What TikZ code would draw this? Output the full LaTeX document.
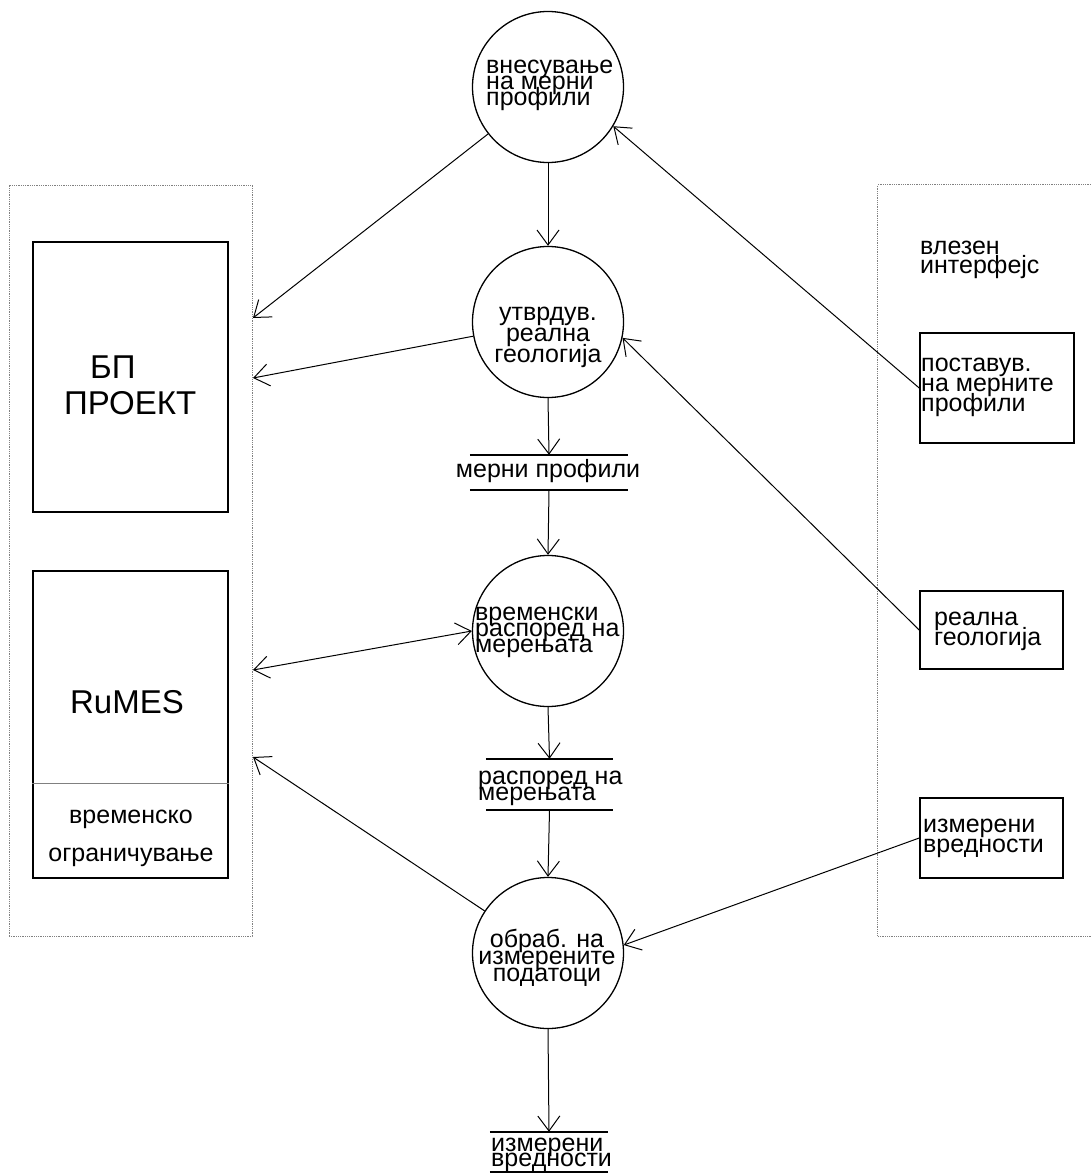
\documentclass[tikz,border=0pt]{standalone}
\usepackage{fontspec}
\setmainfont{Liberation Sans}
\usetikzlibrary{arrows.meta}
\tikzset{
  proc/.style={circle, draw, line width=1.3pt, minimum size=151pt, inner sep=0pt},
  ent/.style={draw, line width=1.6pt, inner sep=0pt},
  bound/.style={draw=gray, densely dotted, line width=0.8pt, inner sep=0pt},
  boundline/.style={draw=gray, densely dotted, line width=0.8pt},
  store/.style={inner sep=0pt},
  storeline/.style={line width=2.4pt},
  flow/.style={-{Straight Barb[length=15pt,width=22pt]}, line width=1pt},
  biflow/.style={{Straight Barb[length=15pt,width=22pt]}-{Straight Barb[length=15pt,width=22pt]}, line width=1pt},
  txt/.style={inner sep=0pt, align=left, font={\fontsize{25}{#1}\selectfont\lineskiplimit=-100pt}},
  txt/.default=16,
  ctxt/.style={txt=#1, align=center},
  ctxt/.default=16,
  big/.style={inner sep=0pt, align=left, font={\fontsize{33}{36}\selectfont\lineskiplimit=-100pt}}
}
\begin{document}
\begin{tikzpicture}[x=1pt,y=-1pt]
\useasboundingbox (0,0) rectangle (1090,1174);
% boundaries
\node[bound, minimum width=243pt, minimum height=751pt] (lb) at (130.5,560.5) {};
\node[inner sep=0pt, minimum width=220pt, minimum height=751pt] (rb) at (988,560.5) {};
\draw[boundline] (rb.north east) -- (rb.north west) -- (rb.south west) -- (rb.south east);
% left entities
\node[ent, minimum width=195pt, minimum height=270pt] (bp) at (130.5,377) {};
\node[big, anchor=west] (bpt) at (64,385) {\hspace*{26pt}БП\\ПРОЕКТ};
\node[ent, minimum width=195pt, minimum height=307pt] (ru) at (130.5,724.5) {};
\draw[gray, line width=0.8pt] (ru.west |- 0,783) coordinate (rusl) -- (ru.east |- 0,783) coordinate (rusr);
\node[big, anchor=center] (rut) at (127,702) {RuMES};
\node[ctxt=38] (rut2) at (131,838) {временско\\ограничување};
% processes
\node[proc] (p1) at (548,87) {};
\node[txt, anchor=west] (t1) at (486,85) {внесување\\на мерни\\профили};
\node[proc] (p2) at (548,322) {};
\node[ctxt=21] (t2) at (548,337) {утврдув.\\реална\\геологија};
\node[proc] (p3) at (548,631) {};
\node[txt, anchor=west] (t3) at (475,632) {временски\\распоред на\\мерењата};
\node[proc] (p4) at (548,953) {};
\node[ctxt=17] (t4) at (547,958) {обраб. на\\измерените\\податоци};
% stores
\node[store, minimum width=158pt, minimum height=35pt] (s1) at (549,472.5) {};
\draw[storeline] (s1.north west) -- (s1.north east);
\draw[storeline] (s1.south west) -- (s1.south east);
\node[txt] (ts1) at (548,471) {мерни профили};
\node[store, minimum width=127pt, minimum height=51pt] (s2) at (549.5,784.5) {};
\draw[storeline] (s2.north west) -- (s2.north east);
\draw[storeline] (s2.south west) -- (s2.south east);
\node[txt, anchor=west] (ts2) at (478,788) {распоред на\\мерењата};
\node[store, minimum width=118pt, minimum height=40pt] (s3) at (549,1152) {};
\draw[storeline] (s3.north west) -- (s3.north east);
\draw[storeline] (s3.south west) -- (s3.south east);
\node[txt=15, anchor=west] (ts3) at (491,1155) {измерени\\вредности};
% right entities
\node[txt=19, anchor=west] (tif) at (920,260) {влезен\\интерфејс};
\node[ent, minimum width=154pt, minimum height=110pt] (b1) at (997,388) {};
\node[txt=20, anchor=west] (tb1) at (921,387) {поставув.\\на мерните\\профили};
\node[ent, minimum width=143pt, minimum height=78pt] (b2) at (991.5,630) {};
\node[txt=20, anchor=west] (tb2) at (934,631) {реална\\геологија};
\node[ent, minimum width=143pt, minimum height=80pt] (b3) at (991.5,838) {};
\node[txt=20, anchor=west] (tb3) at (923,838) {измерени\\вредности};
% coordinates on the left boundary
\coordinate (lbA) at (253,318);
\coordinate (lbB) at (253,378);
\coordinate (lbC) at (253,670);
\coordinate (lbD) at (253,757);
% flows
\draw[flow] (p1) -- (lbA);
\draw[flow] (p1.south) -- (p2.north);
\draw[flow] (p2) -- (lbB);
\draw[flow] (p2.south) -- (s1.north);
\draw[flow] (s1.south) -- (p3.north);
\draw[biflow] (p3.west) -- (lbC);
\draw[flow] (p3.south) -- (s2.north);
\draw[flow] (s2.south) -- (p4.north);
\draw[flow] (p4) -- (lbD);
\draw[flow] (p4.south) -- (s3.north);
\draw[flow] (b1.west) -- (p1.-31.5);
\draw[flow] (b2.west) -- (p2.-12);
\draw[flow] (b3.west) -- (p4.6);
\end{tikzpicture}
\end{document}
